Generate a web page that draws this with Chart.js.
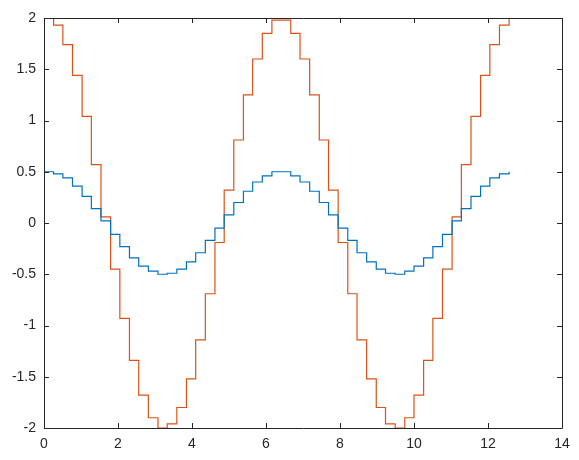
<!DOCTYPE html>
<html>
<head>
<meta charset="utf-8">
<script src="https://cdn.jsdelivr.net/npm/chart.js@4/dist/chart.umd.min.js"></script>
<style>
  html, body { margin: 0; padding: 0; background: #fff; }
  #wrap { width: 579px; height: 460px; }
</style>
</head>
<body>
<div id="wrap"><canvas id="c" width="579" height="460"></canvas></div>
<script>
// stairs data
const xs = [0, 0.26, 0.51, 0.77, 1.03, 1.28, 1.54, 1.80, 2.05, 2.31, 2.56, 2.82, 3.08, 3.33,
  3.59, 3.85, 4.10, 4.36, 4.62, 4.87, 5.13, 5.39, 5.64, 5.90, 6.16, 6.41, 6.67, 6.92, 7.18,
  7.44, 7.69, 7.95, 8.21, 8.46, 8.72, 8.98, 9.23, 9.49, 9.75, 10.00, 10.26, 10.51, 10.77,
  11.03, 11.28, 11.54, 11.80, 12.05, 12.31, 12.57];

const blueY = [0.50, 0.48, 0.44, 0.36, 0.26, 0.14, 0.02, -0.11, -0.23, -0.34, -0.42, -0.47,
  -0.50, -0.49, -0.45, -0.38, -0.29, -0.17, -0.05, 0.08, 0.20, 0.31, 0.40, 0.46, 0.50, 0.50,
  0.46, 0.40, 0.31, 0.20, 0.08, -0.05, -0.17, -0.29, -0.38, -0.45, -0.49, -0.50, -0.47,
  -0.42, -0.34, -0.23, -0.11, 0.02, 0.14, 0.26, 0.36, 0.44, 0.48, 0.50];

const redY = [2.00, 1.93, 1.74, 1.44, 1.04, 0.57, 0.06, -0.45, -0.93, -1.34, -1.68, -1.90,
  -2.00, -1.96, -1.80, -1.52, -1.14, -0.69, -0.19, 0.32, 0.81, 1.25, 1.60, 1.85, 1.98, 1.98,
  1.85, 1.60, 1.25, 0.81, 0.32, -0.19, -0.69, -1.14, -1.52, -1.80, -1.96, -2.00, -1.90,
  -1.68, -1.34, -0.93, -0.45, 0.06, 0.57, 1.04, 1.44, 1.74, 1.93, 2.00];

const xTicks = [0, 2, 4, 6, 8, 10, 12, 14];
const yTicks = [-2, -1.5, -1, -0.5, 0, 0.5, 1, 1.5, 2];

const axisColor = "#262626";
const tickFont = { family: "'Liberation Sans', Arial, sans-serif", size: 14 };

// box + inward tick marks on all four sides
const boxPlugin = {
  id: "box",
  afterDatasetsDraw(chart) {
    const { ctx, chartArea: a, scales } = chart;
    ctx.save();
    ctx.strokeStyle = axisColor;
    ctx.lineWidth = 1;
    ctx.beginPath();
    ctx.rect(Math.round(a.left) + 0.5, Math.round(a.top) + 0.5,
      Math.round(a.right - a.left), Math.round(a.bottom - a.top));
    xTicks.forEach((v) => {
      const px = Math.round(scales.x.getPixelForValue(v)) + 0.5;
      ctx.moveTo(px, a.bottom); ctx.lineTo(px, a.bottom - 5);
      ctx.moveTo(px, a.top); ctx.lineTo(px, a.top + 5);
    });
    yTicks.forEach((v) => {
      const py = Math.round(scales.y.getPixelForValue(v)) + 0.5;
      ctx.moveTo(a.left, py); ctx.lineTo(a.left + 5, py);
      ctx.moveTo(a.right, py); ctx.lineTo(a.right - 5, py);
    });
    ctx.stroke();
    ctx.restore();
  },
};

new Chart(document.getElementById("c"), {
  type: "line",
  data: {
    datasets: [
      {
        data: xs.map((x, i) => ({ x, y: blueY[i] })),
        borderColor: "#0072BD",
        borderWidth: 1.2,
        stepped: true,
        pointRadius: 0,
        fill: false,
      },
      {
        data: xs.map((x, i) => ({ x, y: redY[i] })),
        borderColor: "#D95319",
        borderWidth: 1.2,
        stepped: true,
        pointRadius: 0,
        fill: false,
      },
    ],
  },
  options: {
    responsive: false,
    animation: false,
    layout: { padding: { top: 18, right: 17, left: 0, bottom: 0 } },
    plugins: { legend: { display: false }, tooltip: { enabled: false } },
    scales: {
      x: {
        type: "linear",
        min: 0,
        max: 14,
        afterBuildTicks: (s) => { s.ticks = xTicks.map((v) => ({ value: v })); },
        afterFit: (s) => { s.height = 32; },
        grid: { display: false, drawTicks: false },
        border: { display: false },
        ticks: {
          color: axisColor,
          padding: 8,
          maxRotation: 0,
          font: tickFont,
          callback: (v) => String(v),
        },
      },
      y: {
        min: -2,
        max: 2,
        afterBuildTicks: (s) => { s.ticks = yTicks.map((v) => ({ value: v })); },
        afterFit: (s) => { s.width = 44; },
        grid: { display: false, drawTicks: false },
        border: { display: false },
        ticks: {
          color: axisColor,
          padding: 8,
          font: tickFont,
          callback: (v) => String(v),
        },
      },
    },
  },
  plugins: [boxPlugin],
});
</script>
</body>
</html>
